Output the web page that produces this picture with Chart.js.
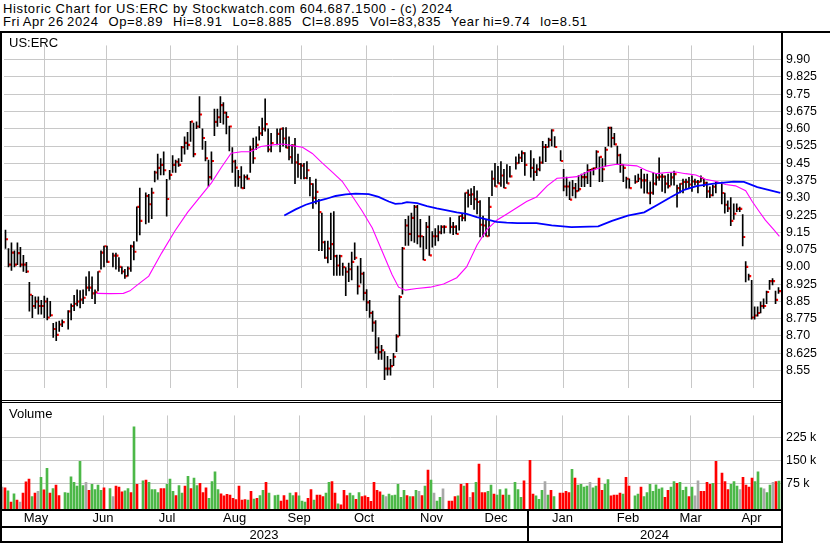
<!DOCTYPE html>
<html>
<head>
<meta charset="utf-8">
<script src="https://cdn.jsdelivr.net/npm/chart.js"></script>
<style>
  body { margin: 0; background: #fff; width: 830px; height: 543px; overflow: hidden; position: relative;
         font-family: "Liberation Sans", Arial, sans-serif; color: #000; }
  .hdr { position: absolute; left: 3px; font-size: 13px; line-height: 13.4px; white-space: pre;
         letter-spacing: 0.62px; }
  .lbl { position: absolute; font-size: 13px; line-height: 13px; }
  canvas { position: absolute; left: 0; }
  .ln { position: absolute; background: #000; }
</style>
</head>
<body>
<div class="hdr" style="top:2px">Historic Chart for US:ERC by Stockwatch.com 604.687.1500 - (c) 2024</div>
<div class="hdr" style="top:15.4px;word-spacing:-0.9px">Fri Apr 26 2024   Op=8.89   Hi=8.91   Lo=8.885   Cl=8.895   Vol=83,835   Year hi=9.74   lo=8.51</div>

<canvas id="price" width="830" height="367" style="top:33px"></canvas>
<canvas id="vol" width="830" height="140" style="top:403px"></canvas>

<div class="lbl" style="left:9px;top:36px">US:ERC</div>
<div class="lbl" style="left:9px;top:407px">Volume</div>

<div class="ln" style="left:0;top:31px;width:830px;height:2px"></div>
<div class="ln" style="left:0;top:31px;width:2px;height:512px"></div>
<div class="ln" style="left:781px;top:31px;width:2px;height:512px"></div>
<div class="ln" style="left:0;top:400px;width:782px;height:1px"></div>
<div class="ln" style="left:0;top:402px;width:782px;height:1px"></div>

<script>
// one slot per weekday, May 1 2023 .. Apr 26 2024 (null = market holiday)
const highs = [
  9.16, 9.08, 9.105, 9.07, 9.105, 9.085, 9.05, 9.02, 8.933, 8.876,
  8.87, 8.87, 8.855, 8.873, 8.865, 8.85, 8.755, 8.76, 8.765, 8.77,
  null, 8.81, 8.84, 8.876, 8.90, 8.897, 8.90, 8.957, 8.98, 8.957,
  8.90, 8.98, 9.07, 9.09, 9.09, null, 9.06, 9.06, 9.04, 9.00,
  8.99, 9.00, 9.095, 9.11, 9.261, 9.342, null, 9.322, 9.315, 9.342,
  9.416, 9.49, 9.47, 9.50, 9.38, 9.42, 9.484, 9.464, 9.47, 9.524,
  9.565, 9.585, 9.632, 9.625, 9.63, 9.74, 9.60, 9.545, 9.464, 9.50,
  9.686, 9.686, 9.74, 9.714, 9.673, 9.612, 9.518, 9.464, 9.42, 9.436,
  9.40, 9.40, 9.525, 9.56, 9.565, 9.61, 9.646, 9.73, 9.60, 9.58,
  null, 9.60, 9.60, 9.605, 9.605, 9.565, 9.531, 9.558, 9.49, 9.45,
  9.45, 9.457, 9.389, 9.362, 9.382, 9.294, 9.234, 9.112, 9.112, 9.234,
  9.24, 9.051, 9.051, 9.017, 8.997, 9.017, 9.064, 9.105, 9.004, 9.037,
  8.977, 8.902, 8.855, 8.808, 8.767, 8.693, 8.659, 8.632, 8.612, 8.598,
  8.625, 8.706, 8.875, 9.085, 9.207, 9.221, 9.234, 9.268, 9.268, 9.207,
  9.133, 9.194, 9.221, 9.153, 9.167, 9.18, 9.18, 9.18, null, 9.214,
  9.194, 9.18, 9.221, 9.228, 9.322, 9.335, 9.34, 9.35, 9.33, 9.288,
  9.221, 9.207, 9.302, 9.417, 9.45, 9.437, 9.457, 9.424, 9.444, 9.437,
  null, 9.478, 9.49, 9.504, 9.497, null, 9.505, 9.47, 9.444, 9.478,
  9.546, 9.532, 9.56, 9.596, 9.566, null, 9.505, 9.424, 9.39, 9.37,
  9.376, 9.363, 9.397, 9.403, 9.41, 9.444, 9.424, 9.43, 9.505, 9.478,
  9.47, 9.519, 9.607, 9.607, 9.58, 9.525, 9.49, 9.444, 9.39, 9.383,
  null, 9.397, 9.403, 9.424, 9.403, 9.403, 9.37, 9.409, 9.403, 9.474,
  9.403, 9.396, 9.403, 9.409, 9.416, 9.355, 9.362, 9.382, 9.382, 9.389,
  9.396, 9.382, 9.376, 9.396, 9.382, 9.369, 9.348, 9.355, 9.369, null,
  9.369, 9.321, 9.287, 9.301, 9.274, 9.274, 9.26, 9.227, 9.023, 8.969,
  8.942, 8.827, 8.827, 8.848, 8.861, 8.895, 8.942, 8.949, 8.895, 8.91
];
const lows = [
  9.08, 9.00, 8.985, 9.00, 9.01, 9.00, 8.98, 8.975, 8.808, 8.78,
  8.82, 8.795, 8.795, 8.78, 8.77, 8.785, 8.694, 8.68, 8.72, 8.74,
  null, 8.73, 8.77, 8.81, 8.83, 8.822, 8.84, 8.876, 8.896, 8.862,
  8.84, 8.896, 8.99, 9.00, 9.02, null, 9.00, 8.99, 8.98, 8.97,
  8.95, 8.96, 8.98, 9.03, 9.112, 9.139, null, 9.187, 9.193, 9.21,
  9.369, 9.38, 9.40, 9.40, 9.22, 9.38, 9.41, 9.41, 9.437, 9.457,
  9.49, 9.51, 9.545, 9.478, 9.60, 9.605, 9.51, 9.46, 9.35, 9.38,
  9.57, 9.61, 9.626, 9.62, 9.578, 9.504, 9.41, 9.35, 9.35, 9.342,
  9.34, 9.38, 9.41, 9.45, 9.51, 9.55, 9.57, 9.59, 9.50, 9.50,
  null, 9.53, 9.50, 9.524, 9.517, 9.465, 9.45, 9.362, 9.389, 9.382,
  9.382, 9.382, 9.308, 9.254, 9.274, 9.071, 9.071, 9.037, 9.017, 9.031,
  8.963, 8.963, 8.963, 8.963, 8.875, 8.936, 8.943, 9.031, 8.882, 8.929,
  8.855, 8.81, 8.781, 8.72, 8.625, 8.598, 8.598, 8.51, 8.53, 8.53,
  8.571, 8.632, 8.70, 8.882, 9.093, 9.093, 9.113, 9.106, 9.10, 9.086,
  9.03, 9.079, 9.05, 9.086, 9.093, 9.113, 9.143, 9.147, null, 9.147,
  9.14, 9.143, 9.16, 9.20, 9.20, 9.26, 9.27, 9.25, 9.23, 9.13,
  9.13, 9.133, 9.133, 9.309, 9.35, 9.363, 9.35, 9.343, 9.363, 9.39,
  null, 9.424, 9.45, 9.457, 9.397, null, 9.39, 9.376, 9.396, 9.417,
  9.45, 9.457, 9.52, 9.525, 9.52, null, 9.46, 9.33, 9.308, 9.292,
  9.308, 9.30, 9.329, 9.349, 9.349, 9.362, 9.349, 9.40, 9.43, 9.37,
  9.37, 9.437, 9.525, 9.52, 9.53, 9.444, 9.41, 9.37, 9.342, 9.342,
  null, 9.363, 9.37, 9.342, 9.32, 9.32, 9.274, 9.315, 9.355, 9.376,
  9.328, 9.321, 9.342, 9.355, 9.355, 9.26, 9.321, 9.321, 9.335, 9.342,
  9.328, 9.355, 9.321, 9.369, 9.348, 9.301, 9.301, 9.308, 9.321, null,
  9.274, 9.233, 9.24, 9.179, 9.206, 9.24, 9.24, 9.091, 8.935, 8.942,
  8.773, 8.773, 8.786, 8.80, 8.82, 8.84, 8.902, 8.922, 8.84, 8.885
];
const closes = [
  9.12, 9.01, 9.062, 9.01, 9.06, 9.01, 9.01, 8.98, 8.879, 8.83,
  8.85, 8.83, 8.83, 8.85, 8.78, 8.79, 8.73, 8.705, 8.75, 8.76,
  null, 8.807, 8.83, 8.84, 8.85, 8.858, 8.866, 8.91, 8.91, 8.885,
  8.89, 8.98, 9.062, 9.09, 9.022, null, 9.049, 9.049, 9.00, 8.98,
  8.96, 8.993, 9.089, 9.066, 9.261, 9.20, null, 9.308, 9.272, 9.322,
  9.41, 9.43, 9.443, 9.42, 9.295, 9.40, 9.443, 9.457, 9.443, 9.52,
  9.539, 9.53, 9.631, 9.49, 9.61, 9.662, 9.56, 9.472, 9.39, 9.46,
  9.63, 9.65, 9.703, 9.67, 9.651, 9.61, 9.458, 9.431, 9.39, 9.342,
  9.39, 9.383, 9.51, 9.472, 9.53, 9.58, 9.60, 9.62, 9.51, 9.538,
  null, 9.578, 9.60, 9.558, 9.518, 9.477, 9.528, 9.454, 9.447, 9.44,
  9.386, 9.42, 9.36, 9.30, 9.326, 9.238, 9.107, 9.04, 9.08, 9.099,
  9.047, 9.006, 9.047, 8.999, 8.979, 8.99, 9.022, 9.04, 8.916, 8.97,
  8.887, 8.846, 8.80, 8.758, 8.65, 8.63, 8.638, 8.558, 8.558, 8.569,
  8.61, 8.698, 8.869, 9.08, 9.18, 9.143, 9.213, 9.261, 9.133, 9.133,
  9.03, 9.174, 9.05, 9.133, 9.133, 9.15, 9.174, 9.174, null, 9.174,
  9.174, 9.143, 9.221, 9.213, 9.322, 9.313, 9.315, 9.294, 9.282, 9.183,
  9.18, 9.133, 9.261, 9.383, 9.35, 9.363, 9.397, 9.343, 9.363, 9.393,
  null, 9.45, 9.474, 9.494, 9.443, null, 9.43, 9.413, 9.424, 9.453,
  9.521, 9.521, 9.552, 9.593, 9.521, null, 9.46, 9.349, 9.349, 9.292,
  9.342, 9.329, 9.338, 9.39, 9.39, 9.42, 9.424, 9.428, 9.50, 9.478,
  9.424, 9.509, 9.604, 9.56, 9.532, 9.485, 9.444, 9.43, 9.383, 9.342,
  null, 9.37, 9.383, 9.376, 9.376, 9.32, 9.322, 9.362, 9.389, 9.392,
  9.392, 9.362, 9.351, 9.389, 9.403, 9.342, 9.361, 9.369, 9.369, 9.358,
  9.371, 9.369, 9.369, 9.385, 9.365, 9.328, 9.311, 9.348, 9.365, null,
  9.321, 9.27, 9.254, 9.20, 9.231, 9.252, 9.252, 9.13, 9.00, 8.96,
  8.78, 8.789, 8.80, 8.83, 8.83, 8.891, 8.938, 8.938, 8.857, 8.895
];
// volume in thousands of shares
const volumes = [
  64, 61, 52, 15, 42, 21, 15, 44, 81, 90,
  33, 44, 50, 96, 55, 125, 44, 59, 70, 36,
  null, 46, 44, 97, 79, 67, 148, 69, 79, 53,
  73, 56, 70, 53, 61, null, 59, 33, 67, 64,
  48, 52, 59, 46, 261, 73, null, 84, 87, 79,
  56, 56, 46, 59, 59, 73, 90, 50, 36, 69,
  44, 67, 99, 59, 93, 69, 76, 46, 61, 27,
  82, 114, 56, 42, 35, 40, 38, 27, 23, 67,
  21, 23, 21, 50, 25, 27, 36, 53, 79, 44,
  null, 36, 38, 18, 36, 21, 44, 36, 46, 35,
  18, 15, 27, 56, 21, 38, 38, 33, 44, 79,
  82, 44, 9, 6, 53, 36, 44, 36, 24, 46,
  33, 35, 30, 17, 79, 53, 48, 38, 33, 41,
  36, 38, 73, 30, 53, 36, 33, 33, 53, 50,
  36, 67, 119, 87, 44, 18, 30, 58, null, 18,
  18, 33, 35, 73, 67, 76, 30, 46, 79, 139,
  46, 46, 50, 70, 41, 38, 56, 38, 58, 38,
  null, 79, 56, 30, 84, null, 151, 41, 35, 24,
  53, 82, 38, 53, 33, null, 44, 44, 50, 46,
  122, 93, 70, 73, 64, 67, 79, 61, 67, 93,
  53, 73, 88, 35, 38, 38, 44, 41, 96, 67,
  null, 35, 41, 64, 33, 46, 73, 50, 71, 57,
  61, 30, 53, 64, 82, 76, 79, 53, 64, 33,
  64, 35, 84, 50, 50, 79, 73, 76, 148, null,
  110, 82, 56, 73, 82, 67, 56, 96, 70, 64,
  93, 82, 114, 61, 58, 46, 70, 79, 82, 83.835
];
// u = up day (green), d = down day (red), n = unchanged (grey), - = holiday
const volumeDir = [
  "ndududnddd", "udnudududd", "-uuuuuuund", "uuuud-undd",
  "duudud-udu", "uuudduuudu", "ududuudddu", "uuuddddddd",
  "ddududuudu", "-uuddduudu", "uuddudddu" + "u", "dduddduudu",
  "dddddddunu", "uuuuududun", "dudunuun-d", "ddududndud",
  "dduuduuduu", "-uuud-dduu", "unudu-dddd", "uduuuunuud",
  "duuddddudd", "-uuduuuuuu", "udduuduuud", "unnddddud-",
  "ddduuunddd", "duuunuundu"
].join("").split("");

// moving averages: slot and value pairs
const maFastSlots = [30.5, 35, 39.5, 41.7, 44.2, 48, 52.3, 56.7, 61, 65.6, 69, 72.3, 75.6, 79, 82, 85.6,
  89.5, 92.8, 96, 99.5, 102.8, 106, 109.5, 112.8, 116, 119.5, 122.9, 126.2, 129.5, 131.7, 134, 137.8,
  142.3, 146.8, 151.2, 154.5, 158, 161.3, 164.6, 168, 171.3, 174.6, 177.9, 181.5, 184.8, 188.2, 191.5,
  194.8, 198.2, 201.5, 204.8, 208.2, 211.5, 214.8, 218.2, 221.5, 224.6, 227.9, 231.3, 234.6, 237.9,
  241.3, 244.6, 248, 250.2, 252.4, 254.6, 257.4, 259.3];
const maFastValues = [8.885, 8.884, 8.885, 8.896, 8.922, 8.96, 9.06, 9.155, 9.237, 9.311, 9.365, 9.432,
  9.494, 9.50, 9.50, 9.523, 9.53, 9.534, 9.527, 9.52, 9.493, 9.453, 9.412, 9.372, 9.311, 9.243, 9.169,
  9.068, 8.967, 8.912, 8.899, 8.906, 8.912, 8.926, 8.953, 9.0, 9.095, 9.162, 9.203, 9.23, 9.257, 9.284,
  9.304, 9.352, 9.385, 9.388, 9.392, 9.412, 9.426, 9.439, 9.446, 9.442, 9.439, 9.419, 9.405, 9.41,
  9.412, 9.405, 9.399, 9.381, 9.372, 9.358, 9.352, 9.331, 9.284, 9.243, 9.203, 9.162, 9.133];
const maSlowSlots = [93.4, 97.2, 100.6, 103.9, 107.3, 110.6, 114, 117.3, 121.7, 125, 128.4, 130.6, 132.9,
  134.5, 137.9, 141.2, 144.5, 147.9, 151.2, 154.5, 157.9, 161.2, 164.5, 167.9, 171.5, 177.9, 183, 189.6,
  198.6, 203.2, 208.5, 214, 218.5, 223, 227.4, 231.8, 237.3, 244, 247.4, 251.9, 259.6];
const maSlowValues = [9.223, 9.25, 9.27, 9.284, 9.295, 9.308, 9.315, 9.318, 9.316, 9.304, 9.284, 9.274,
  9.276, 9.281, 9.277, 9.264, 9.254, 9.246, 9.237, 9.23, 9.216, 9.206, 9.196, 9.192, 9.19, 9.19, 9.18,
  9.173, 9.176, 9.20, 9.223, 9.237, 9.27, 9.304, 9.335, 9.352, 9.362, 9.37, 9.369, 9.347, 9.322];

const priceTicks = [8.55, 8.625, 8.70, 8.775, 8.85, 8.925, 9.00, 9.075, 9.15, 9.225, 9.30, 9.375,
  9.45, 9.525, 9.60, 9.675, 9.75, 9.825, 9.90];
const volumeTicks = [75, 150, 225];
const monthNames = ["May", "Jun", "Jul", "Aug", "Sep", "Oct", "Nov", "Dec", "Jan", "Feb", "Mar", "Apr"];
const monthTicks = [23.5, 44.2, 66.2, 89.2, 109.2, 132.5, 154.2, 175.5, 198.5, 219.2, 240.2];
const years = ["2023", "2024"];

const FONT = '"Liberation Sans", Arial, sans-serif';
Chart.defaults.font.family = FONT;
Chart.defaults.font.size = 12.4;
Chart.defaults.color = "#000";

const X_MIN = -0.5, X_MAX = 259.8333;   // 3 px per weekday slot
const GRID = "#c8c8c8";

const xScale = () => ({
  type: "linear", min: X_MIN, max: X_MAX, offset: false,
  afterBuildTicks: s => { s.ticks = monthTicks.map(v => ({ value: v })); },
  ticks: { display: false },
  grid: { color: GRID, drawTicks: false },
  border: { display: false }
});

// price panel: high-low bar with the close tick just right of it
const hiLo = [], closePts = [];
highs.forEach((h, i) => {
  if (h === null) return;
  hiLo.push({ x: i, y: [lows[i], h] });
  closePts.push({ x: i + 0.5, y: closes[i] });
});

const priceLabel = v => {
  const s = v.toFixed(3);
  return s.endsWith("0") ? s.slice(0, -1) : s;
};

new Chart(document.getElementById("price"), {
  type: "bar",
  data: {
    datasets: [
      { type: "line", data: maSlowSlots.map((x, i) => ({ x, y: maSlowValues[i] })),
        borderColor: "#0000ff", borderWidth: 1.8, pointRadius: 0, tension: 0 },
      { type: "line", data: maFastSlots.map((x, i) => ({ x, y: maFastValues[i] })),
        borderColor: "#ff00ff", borderWidth: 1.1, pointRadius: 0, tension: 0 },
      { type: "bar", data: hiLo, backgroundColor: "#000", barThickness: 1, grouped: false },
      { type: "scatter", data: closePts, pointStyle: "rect", pointRadius: 1.5,
        pointBackgroundColor: "#ff0000", pointBorderWidth: 0 }
    ]
  },
  options: {
    responsive: false, animation: false, devicePixelRatio: 1,
    layout: { padding: 0 },
    plugins: { legend: { display: false }, tooltip: { enabled: false } },
    scales: {
      x: xScale(),
      y: {
        position: "right", min: 8.4759, max: 9.9620,
        afterBuildTicks: s => { s.ticks = priceTicks.map(v => ({ value: v })); },
        afterFit: s => { s.width = 49; },
        ticks: { padding: 5, callback: v => priceLabel(v) },
        grid: { color: GRID, drawTicks: false },
        border: { display: false }
      }
    }
  }
});

// volume panel
const volBars = [], volColors = [];
const VOL_MIN = -7.79;
const dirColor = { u: "#4cb848", d: "#ff0000", n: "#a8a8a8" };
volumes.forEach((v, i) => {
  if (v === null) return;
  volBars.push({ x: i + 1 / 6, y: [VOL_MIN, v] });
  volColors.push(dirColor[volumeDir[i]] || "#a8a8a8");
});

const timeRows = {
  id: "timeRows",
  afterDraw(chart) {
    const { ctx } = chart;
    const x = chart.scales.x;
    ctx.save();
    ctx.fillStyle = "#000";
    ctx.fillRect(0, 106, 782, 2);
    ctx.fillRect(0, 123, 782, 2);
    ctx.fillRect(0, 138, 782, 2);
    const janX = Math.round(x.getPixelForValue(monthTicks[7]));
    ctx.fillRect(janX - 1, 107, 2, 32);
    ctx.font = "13px " + FONT;
    ctx.textAlign = "center";
    ctx.textBaseline = "alphabetic";
    const edges = [X_MIN, ...monthTicks, X_MAX];
    monthNames.forEach((m, i) => {
      const cx = (x.getPixelForValue(edges[i]) + x.getPixelForValue(edges[i + 1])) / 2;
      ctx.fillText(m, cx, 118.5);
    });
    ctx.fillText(years[0], (x.left + janX) / 2, 136);
    ctx.fillText(years[1], (janX + x.right) / 2, 136);
    ctx.restore();
  }
};

new Chart(document.getElementById("vol"), {
  type: "bar",
  data: {
    datasets: [
      { data: volBars, backgroundColor: volColors, barThickness: 2, grouped: false }
    ]
  },
  options: {
    responsive: false, animation: false, devicePixelRatio: 1,
    layout: { padding: { bottom: 34 } },
    plugins: { legend: { display: false }, tooltip: { enabled: false } },
    scales: {
      x: xScale(),
      y: {
        position: "right", min: VOL_MIN, max: 297.98,
        afterBuildTicks: s => { s.ticks = volumeTicks.map(v => ({ value: v })); },
        afterFit: s => { s.width = 49; },
        ticks: { padding: 5, callback: v => v + " k" },
        grid: { color: GRID, drawTicks: false },
        border: { display: false }
      }
    }
  },
  plugins: [timeRows]
});
</script>
</body>
</html>
